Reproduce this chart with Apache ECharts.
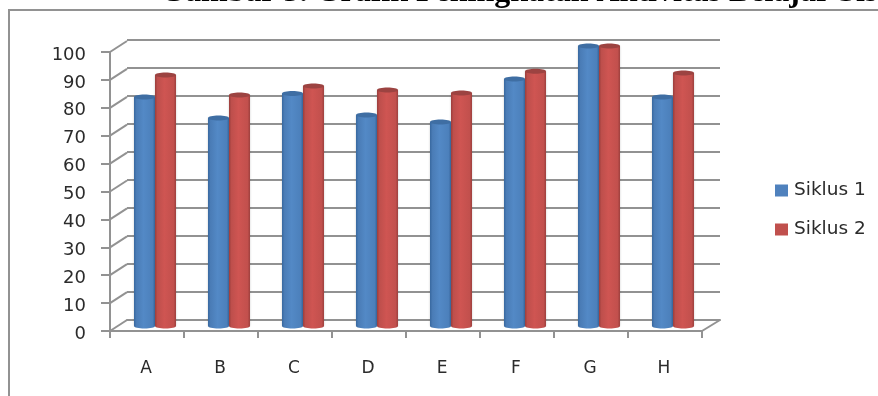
<!DOCTYPE html>
<html>
<head>
<meta charset="utf-8">
<title>Grafik Aktivitas Belajar</title>
<script src="https://cdn.jsdelivr.net/npm/echarts@6/dist/echarts.min.js"></script>
<style>
    html, body { margin: 0; padding: 0; background: #fff; }
    #chart { width: 878px; height: 396px; }
</style>
</head>
<body>
<div id="chart"></div>
<script>
const titleText = 'Gambar 5. Grafik Peningkatan Aktivitas Belajar Sis'
const categories = ['A', 'B', 'C', 'D', 'E', 'F', 'G', 'H']
const siklus1 = [81.8, 74.3, 83, 75.4, 72.9, 88.2, 100, 81.8]
const siklus2 = [89.6, 82.5, 85.7, 84.3, 83.2, 91, 100, 90.4]
const yTicks = [0, 10, 20, 30, 40, 50, 60, 70, 80, 90, 100]

const gridColor = '#929292'
const textColor = '#2b2b2b'
const uiFont = '"DejaVu Sans", sans-serif'
const barWidth = 21

function cylinder (stops) {
    return {
        type: 'linear', x: 0, y: 0, x2: 1, y2: 0,
        colorStops: stops.map((c, i) => ({offset: [0, 0.12, 0.45, 0.88, 1][i], color: c}))
    }
}
const blueFill = cylinder(['#38689f', '#4a7cb6', '#5389c6', '#4c80bb', '#3c6ca4'])
const redFill = cylinder(['#9b3e3c', '#be4f4c', '#cf5552', '#c2504d', '#9d403e'])

// the rounded top and bottom of a column
function capSeries (name, values, dx, fill, topColor) {
    return {
        name: name,
        type: 'custom',
        xAxisIndex: 2,
        yAxisIndex: 2,
        z: 5,
        silent: true,
        data: values.map((v, i) => [i, v]),
        renderItem: function (params, api) {
            const top = api.coord([api.value(0), api.value(1)])
            const base = api.coord([api.value(0), 0])
            const cx = top[0] + dx
            return {
                type: 'group',
                children: [
                    {type: 'ellipse', shape: {cx: cx, cy: base[1], rx: barWidth / 2, ry: 2.5}, style: {fill: fill}},
                    {type: 'ellipse', shape: {cx: cx, cy: top[1], rx: barWidth / 2, ry: 2.5}, style: {fill: topColor}}
                ]
            }
        }
    }
}

const chart = echarts.init(document.getElementById('chart'), null, {renderer: 'canvas'})
chart.setOption({
    animation: false,
    backgroundColor: '#fff',
    title: {
        text: titleText,
        left: 160,
        top: -23,
        padding: 0,
        textStyle: {fontFamily: '"Liberation Serif", serif', fontWeight: 'bold', fontSize: 32, color: '#000'}
    },
    legend: {
        orient: 'vertical',
        left: 775,
        top: 181,
        padding: 0,
        itemWidth: 13,
        itemHeight: 12,
        itemGap: 20,
        icon: 'rect',
        selectedMode: false,
        data: [
            {name: 'Siklus 1', itemStyle: {color: '#4f81bd'}},
            {name: 'Siklus 2', itemStyle: {color: '#c0504d'}}
        ],
        textStyle: {fontFamily: uiFont, fontSize: 18.5, color: textColor, padding: [0, 0, 0, 1]}
    },
    graphic: [
        {
            type: 'rect',
            z: -1,
            shape: {x: 9, y: 10, width: 900, height: 420},
            style: {fill: 'none', stroke: gridColor, lineWidth: 2}
        }
    ],
    grid: [
        {left: 127, top: 40, width: 593, height: 280},
        {left: 110, top: 52, width: 592, height: 279},
        {left: 118, top: 46, width: 592, height: 280},
        // carries only the value labels, which sit a little below their ticks
        {left: 110, top: 55, width: 592, height: 279}
    ],
    xAxis: [
        {
            gridIndex: 0, type: 'category', data: categories,
            axisLine: {lineStyle: {color: gridColor, width: 2}},
            axisTick: {show: false}, axisLabel: {show: false}
        },
        {
            gridIndex: 1, type: 'category', data: categories,
            axisLine: {lineStyle: {color: gridColor, width: 2}},
            axisTick: {show: true, length: 7, lineStyle: {color: gridColor, width: 2}},
            axisLabel: {margin: 29, padding: [0, 2, 0, 0], fontFamily: uiFont, fontSize: 17, color: textColor}
        },
        {
            gridIndex: 2, type: 'category', data: categories,
            axisLine: {show: false}, axisTick: {show: false}, axisLabel: {show: false}
        },
        {
            gridIndex: 3, type: 'category', data: categories,
            axisLine: {show: false}, axisTick: {show: false}, axisLabel: {show: false}
        }
    ],
    yAxis: [
        {
            gridIndex: 0, type: 'value', min: 0, max: 100, interval: 10,
            axisLine: {show: false}, axisTick: {show: false}, axisLabel: {show: false},
            splitLine: {show: true, lineStyle: {color: gridColor, width: 2}}
        },
        {
            gridIndex: 1, type: 'value', min: 0, max: 100, interval: 10,
            axisLine: {show: true, lineStyle: {color: gridColor, width: 2}},
            axisTick: {show: true, length: 9, lineStyle: {color: gridColor, width: 2}},
            axisLabel: {show: false},
            splitLine: {show: false}
        },
        {
            gridIndex: 2, type: 'value', min: 0, max: 100, interval: 10,
            axisLine: {show: false}, axisTick: {show: false}, axisLabel: {show: false},
            splitLine: {show: false}
        },
        {
            gridIndex: 3, type: 'value', min: 0, max: 100, interval: 10,
            axisLine: {show: false}, axisTick: {show: false},
            axisLabel: {margin: 24, fontFamily: uiFont, fontSize: 18, color: textColor},
            splitLine: {show: false}
        }
    ],
    series: [
        {
            // side wall and floor edges joining the front axis to the back wall
            type: 'custom',
            xAxisIndex: 1,
            yAxisIndex: 1,
            z: 1,
            silent: true,
            data: yTicks.map(v => [0, v]),
            renderItem: function (params, api) {
                const sys = params.coordSys
                const y = api.coord([0, api.value(1)])[1]
                const lines = [{
                    type: 'line',
                    shape: {x1: sys.x, y1: y, x2: sys.x + 17, y2: y - 11},
                    style: {stroke: gridColor, lineWidth: 2}
                }]
                if (api.value(1) === 0) {
                    lines.push({
                        type: 'line',
                        shape: {x1: sys.x + sys.width, y1: y, x2: sys.x + sys.width + 18, y2: y - 11},
                        style: {stroke: gridColor, lineWidth: 2}
                    })
                }
                return {type: 'group', children: lines}
            }
        },
        {
            name: 'Siklus 1', type: 'bar', xAxisIndex: 2, yAxisIndex: 2,
            barWidth: barWidth, barGap: 0, z: 4, data: siklus1,
            itemStyle: {color: blueFill, shadowColor: 'rgba(0,0,0,0.2)', shadowBlur: 2}
        },
        {
            name: 'Siklus 2', type: 'bar', xAxisIndex: 2, yAxisIndex: 2,
            barWidth: barWidth, barGap: 0, z: 4, data: siklus2,
            itemStyle: {color: redFill, shadowColor: 'rgba(0,0,0,0.2)', shadowBlur: 2}
        },
        capSeries('Siklus 1 cap', siklus1, -barWidth / 2, blueFill, '#3f6ea3'),
        capSeries('Siklus 2 cap', siklus2, barWidth / 2, redFill, '#9c4341')
    ]
})
</script>
</body>
</html>
